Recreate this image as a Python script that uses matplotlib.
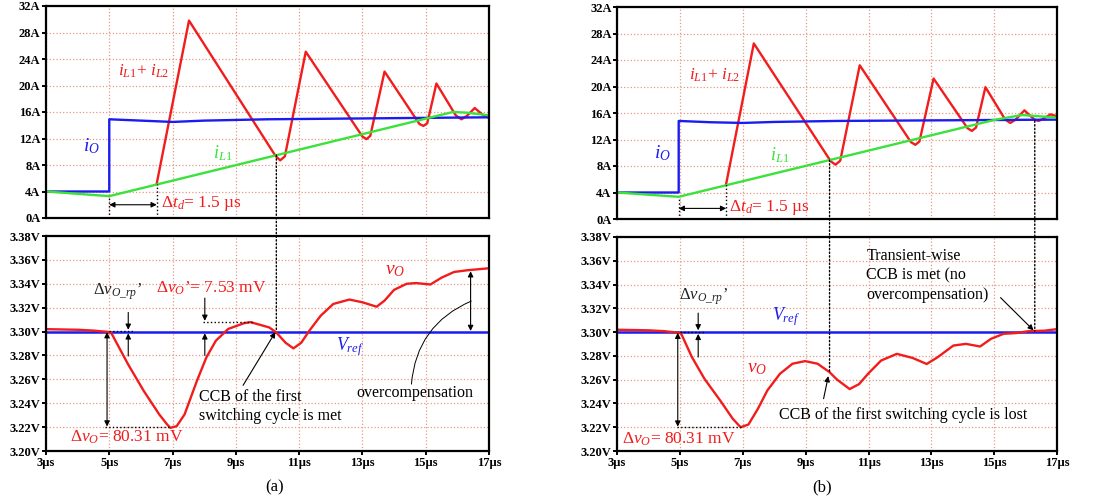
import matplotlib
matplotlib.use("Agg")
import matplotlib.pyplot as plt
from matplotlib.patches import ConnectionPatch

plt.rcParams['font.family'] = ['Liberation Serif', 'DejaVu Serif']
plt.rcParams['mathtext.fontset'] = 'custom'
plt.rcParams['mathtext.rm'] = 'Liberation Serif'
plt.rcParams['mathtext.it'] = 'Liberation Serif:italic'
plt.rcParams['mathtext.bf'] = 'Liberation Serif:bold'

RED = '#f21c1c'
BLUE = '#1c1cf0'
GREEN = '#3ae23a'
GRID = '#e59a86'

# ---------------- data, panel (a) ----------------
io_t_a = [3, 5, 5, 6.0, 7.0, 8.0, 10.0, 17]
io_a = [4.0, 4.0, 14.9, 14.7, 14.5, 14.7, 14.9, 15.2]
il1_t_a = [3, 5, 15.86, 16.3, 17]
il1_a = [4.0, 3.3, 16.0, 15.9, 15.5]
isum_t_a = [6.5, 7.52, 10.25, 10.4, 10.55, 11.21, 13.0, 13.13, 13.25, 13.7, 14.8,
            14.93, 15.05, 15.34, 15.95, 16.13, 16.3, 16.55, 16.8, 17.0]
isum_a = [5.2, 29.8, 9.4, 8.7, 9.3, 25.1, 12.3, 11.9, 12.4, 22.1, 14.2,
          13.9, 14.3, 20.3, 15.5, 14.9, 15.4, 16.6, 15.6, 15.1]
vo_t_a = [3, 4, 4.5, 5.05, 5.59, 6.09, 6.58, 6.83, 6.93, 7.13, 7.38, 7.77, 8.07,
          8.37, 8.76, 9.26, 9.46, 9.85, 10.06, 10.28, 10.57, 10.82, 11.07, 11.32,
          11.68, 12.08, 12.59, 13.0, 13.45, 13.7, 14.0, 14.4, 14.7, 15.15, 15.5,
          15.9, 16.31, 17]
vo_a = [3.302, 3.3015, 3.3008, 3.2995, 3.2728, 3.2503, 3.2306, 3.2222, 3.2194,
        3.2208, 3.2306, 3.2587, 3.2784, 3.2924, 3.3022, 3.307, 3.3079, 3.305,
        3.3034, 3.2992, 3.2907, 3.2859, 3.2907, 3.3006, 3.3132, 3.3231, 3.3268,
        3.3245, 3.3208, 3.3259, 3.3349, 3.340, 3.3406, 3.3394, 3.3451, 3.3499,
        3.3513, 3.353]

# ---------------- data, panel (b) ----------------
io_t_b = [3, 4.96, 4.96, 6.0, 7.0, 8.0, 10.0, 17]
io_b = [4.0, 4.0, 14.8, 14.6, 14.5, 14.65, 14.8, 15.0]
il1_t_b = [3, 4.96, 15.0, 15.88, 17]
il1_b = [4.0, 3.35, 14.95, 15.7, 15.3]
isum_t_b = [6.47, 7.35, 9.8, 9.95, 10.1, 10.72, 12.35, 12.49, 12.62, 13.07, 14.15,
            14.29, 14.42, 14.72, 15.35, 15.51, 15.68, 15.96, 16.28, 16.41, 16.55,
            16.79, 17.0]
isum_b = [5.3, 26.5, 8.7, 8.2, 8.8, 23.2, 11.6, 11.2, 11.7, 21.2, 13.7,
          13.3, 13.8, 19.9, 15.0, 14.5, 15.0, 16.4, 15.0, 14.8, 15.1,
          15.8, 15.5]
vo_t_b = [3, 4, 4.5, 5.03, 5.38, 5.78, 6.28, 6.68, 6.93, 7.18, 7.48, 7.78, 8.18,
          8.58, 8.98, 9.38, 9.76, 10.0, 10.4, 10.7, 11.0, 11.4, 11.9, 12.4, 12.85,
          13.2, 13.7, 14.1, 14.55, 14.9, 15.3, 15.7, 16.1, 16.6, 17]
vo_b = [3.302, 3.3015, 3.3008, 3.2992, 3.279, 3.2607, 3.2425, 3.2271, 3.220,
        3.2223, 3.2355, 3.2509, 3.2649, 3.2734, 3.2756, 3.2734, 3.2663, 3.260,
        3.2521, 3.2563, 3.2654, 3.2761, 3.2817, 3.2783, 3.2732, 3.2789, 3.2887,
        3.2901, 3.2879, 3.2944, 3.2986, 3.2992, 3.3008, 3.3012, 3.3025]

vref = 3.30

fig = plt.figure(figsize=(11, 5), dpi=100)


def style_axes(ax, top):
    ax.set_xlim(3, 17)
    ax.set_xticks(range(3, 18, 2))
    ax.grid(True, color=GRID, linestyle=':', linewidth=0.9)
    for s in ax.spines.values():
        s.set_linewidth(1.6)
    ax.tick_params(direction='out', length=3, width=1.4, pad=1)
    if top:
        ax.set_ylim(0, 32)
        ax.set_yticks(range(0, 33, 4))
        ax.set_yticklabels([f"{v}A" for v in range(0, 33, 4)])
        ax.tick_params(axis='x', labelbottom=False, length=0)
    else:
        ax.set_ylim(3.20, 3.38)
        yt = [3.20 + 0.02 * k for k in range(10)]
        ax.set_yticks(yt)
        ax.set_yticklabels([f"{v:.2f}V" for v in yt])
        ax.set_xticklabels([f"{v}µs" for v in range(3, 18, 2)])
    for lab in ax.get_xticklabels() + ax.get_yticklabels():
        lab.set_fontweight('bold')
        lab.set_fontsize(9)


def arrow(ax, start, end, both=False, lw=0.8):
    ax.annotate('', xy=end, xytext=start,
                arrowprops=dict(arrowstyle='<|-|>' if both else '-|>', color='k',
                                lw=lw, mutation_scale=8, shrinkA=0, shrinkB=0))


def dotted(ax, xs, ys):
    ax.plot(xs, ys, color='k', linestyle=':', linewidth=1.0)


def cross_line(ax1, ax2, x, y1, y2):
    con = ConnectionPatch(xyA=(x, y1), coordsA=ax1.transData,
                          xyB=(x, y2), coordsB=ax2.transData,
                          color='k', linestyle=':', linewidth=1.0)
    fig.add_artist(con)


# ================= panel (a) =================
axa1 = fig.add_axes([0.0418, 0.564, 0.4027, 0.424])
axa2 = fig.add_axes([0.0418, 0.098, 0.4027, 0.430])
for ax, top in ((axa1, True), (axa2, False)):
    style_axes(ax, top)

axa1.plot(isum_t_a, isum_a, color=RED, lw=1.7, solid_joinstyle='round')
axa1.plot(io_t_a, io_a, color=BLUE, lw=1.7)
axa1.plot(il1_t_a, il1_a, color=GREEN, lw=1.7)
axa1.text(4.18, 10.8, r"$i_O$", color=BLUE, fontsize=14, va='center')
axa1.text(5.28, 22.1, r"$i_{L1}$+ $i_{L2}$", color=RED, fontsize=12.5, va='center')
axa1.text(8.28, 9.8, r"$i_{L1}$", color=GREEN, fontsize=13, va='center')
axa1.text(6.65, 2.2, r"$\Delta t_d$= 1.5 µs", color=RED, fontsize=12.5, va='center')
dotted(axa1, [5, 5], [0, 3.3])
dotted(axa1, [6.5, 6.5], [0, 5.2])
arrow(axa1, (5, 2.0), (6.5, 2.0), both=True)

axa2.plot([3, 17], [vref, vref], color=BLUE, lw=1.8)
axa2.plot(vo_t_a, vo_a, color=RED, lw=1.7, solid_joinstyle='round')
axa2.text(4.49, 3.3334, r"$\Delta v_{O\_rp}$’", color='#222222', fontsize=12, va='center')
axa2.text(6.49, 3.3362, r"$\Delta v_O$’= 7.53 mV", color=RED, fontsize=12.5, va='center')
axa2.text(3.76, 3.2114, r"$\Delta v_O$= 80.31 mV", color=RED, fontsize=12.5, va='center')
axa2.text(12.18, 3.2874, r"$V_{ref}$", color=BLUE, fontsize=13, va='center')
axa2.text(13.71, 3.3515, r"$v_O$", color=RED, fontsize=14, va='center')
axa2.text(7.83, 3.2371, "CCB of the first\nswitching cycle is met", color='k',
          fontsize=11.5, va='center', linespacing=1.3)
axa2.text(12.81, 3.2483, "overcompensation", color='k', fontsize=11.5, va='center')
dotted(axa2, [4.85, 6.95], [3.22, 3.22])
dotted(axa2, [5.0, 5.75], [3.3005, 3.3005])
dotted(axa2, [7.95, 9.55], [3.3078, 3.3078])
arrow(axa2, (4.93, 3.2995), (4.93, 3.2205), both=True)
arrow(axa2, (5.6, 3.316), (5.6, 3.3015))
arrow(axa2, (5.6, 3.2795), (5.6, 3.2985))
arrow(axa2, (8.02, 3.328), (8.02, 3.309))
arrow(axa2, (8.02, 3.280), (8.02, 3.2985))
arrow(axa2, (16.42, 3.3005), (16.42, 3.3505), both=True)
arrow(axa2, (9.23, 3.255), (10.25, 3.2995))
axa2.annotate('', xy=(16.44, 3.3255), xytext=(14.55, 3.256),
              arrowprops=dict(arrowstyle='-', color='k', lw=0.7, shrinkA=0, shrinkB=0,
                              connectionstyle='arc3,rad=-0.3'))
cross_line(axa1, axa2, 10.28, 9.5, 3.30)

# ================= panel (b) =================
axb1 = fig.add_axes([0.561, 0.562, 0.400, 0.424])
axb2 = fig.add_axes([0.561, 0.098, 0.400, 0.428])
for ax, top in ((axb1, True), (axb2, False)):
    style_axes(ax, top)

axb1.plot(isum_t_b, isum_b, color=RED, lw=1.7, solid_joinstyle='round')
axb1.plot(io_t_b, io_b, color=BLUE, lw=1.7)
axb1.plot(il1_t_b, il1_b, color=GREEN, lw=1.7)
axb1.text(4.17, 10.0, r"$i_O$", color=BLUE, fontsize=14, va='center')
axb1.text(5.28, 21.7, r"$i_{L1}$+ $i_{L2}$", color=RED, fontsize=12.5, va='center')
axb1.text(7.88, 9.6, r"$i_{L1}$", color=GREEN, fontsize=13, va='center')
axb1.text(6.55, 1.76, r"$\Delta t_d$= 1.5 µs", color=RED, fontsize=12.5, va='center')
dotted(axb1, [4.96, 4.96], [0, 3.35])
dotted(axb1, [6.47, 6.47], [0, 5.3])
arrow(axb1, (4.96, 1.6), (6.47, 1.6), both=True)

axb2.plot([3, 17], [vref, vref], color=BLUE, lw=1.8)
axb2.plot(vo_t_b, vo_b, color=RED, lw=1.7, solid_joinstyle='round')
axb2.text(4.96, 3.3296, r"$\Delta v_{O\_rp}$’", color='#222222', fontsize=12, va='center')
axb2.text(7.93, 3.3128, r"$V_{ref}$", color=BLUE, fontsize=13, va='center')
axb2.text(7.14, 3.2694, r"$v_O$", color=RED, fontsize=14, va='center')
axb2.text(3.16, 3.2098, r"$\Delta v_O$= 80.31 mV", color=RED, fontsize=12.5, va='center')
axb2.text(8.14, 3.2302, "CCB of the first switching cycle is lost", color='k',
          fontsize=11.5, va='center')
axb2.text(10.93, 3.3473, "Transient-wise\nCCB is met (no\novercompensation)",
          color='k', fontsize=11.5, va='center', linespacing=1.3)
dotted(axb2, [4.9, 6.95], [3.22, 3.22])
dotted(axb2, [5.0, 5.75], [3.3003, 3.3003])
arrow(axb2, (4.93, 3.2995), (4.93, 3.2205), both=True)
arrow(axb2, (5.58, 3.316), (5.58, 3.3015))
arrow(axb2, (5.58, 3.279), (5.58, 3.2985))
arrow(axb2, (9.57, 3.244), (9.72, 3.263))
arrow(axb2, (15.2, 3.329), (16.25, 3.3015))
cross_line(axb1, axb2, 9.76, 8.9, 3.2663)
cross_line(axb1, axb2, 16.29, 14.8, 3.3008)

fig.text(275 / 1100, 1 - 487 / 500, "(a)", fontsize=12, ha='center', va='center')
fig.text(822 / 1100, 1 - 487 / 500, "(b)", fontsize=12, ha='center', va='center')

fig.savefig("out.png", dpi=100)
